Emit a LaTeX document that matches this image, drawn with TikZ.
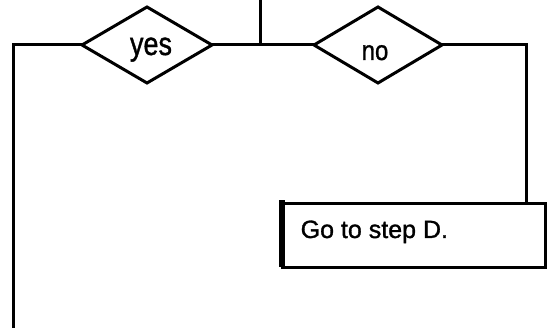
\documentclass[tikz,border=0pt]{standalone}
\usepackage{fontspec}
\setmainfont{Liberation Sans}
\newfontfamily\heavyfont[FakeBold=1.2]{Liberation Sans}
\usetikzlibrary{shapes.geometric}
\begin{document}
\begin{tikzpicture}[x=1pt,y=1pt,
  conn/.style={line width=3pt},
  dia/.style={diamond, draw, line width=3pt, minimum width=130pt, minimum height=76pt, inner sep=0pt, outer sep=0pt},
  stepbox/.style={rectangle, draw, line width=3pt, minimum width=263pt, minimum height=64pt, inner sep=0pt, outer sep=0pt},
  lbl/.style={font=\heavyfont\fontsize{25}{30}\selectfont, inner sep=0pt}]
\useasboundingbox (0,0) rectangle (548,328);
\node[dia] (yes) at (147,283) {};
\node[dia, minimum width=128pt] (no) at (378,283) {};
\node[lbl, anchor=base] (yestext) at (151,273) {\scalebox{1}[1.2]{\fontsize{27}{30}\selectfont yes}};
\node[lbl, anchor=base] (notext) at (375,268) {\scalebox{1}[1.15]{\fontsize{24}{30}\selectfont no}};
\node[stepbox] (box) at (413.5,92.5) {};
\node[lbl, anchor=base west] (boxtext) at (300.5,90) {Go to step D.};
\draw[line width=5.5pt] ([yshift=3pt]box.north west) -- (box.south west);
\coordinate (top) at (260,328);
\coordinate (j) at (260,283);
\coordinate (lc) at (13,283);
\coordinate (lb) at (13,0);
\coordinate (rc) at (526,283);
\draw[conn] (top) -- (j);
\draw[conn] (yes.east) -- (no.west);
\draw[conn] (yes.west) -- (lc) -- (lb);
\draw[conn] (no.east) -- (rc) -- (rc |- box.north);
\end{tikzpicture}
\end{document}
